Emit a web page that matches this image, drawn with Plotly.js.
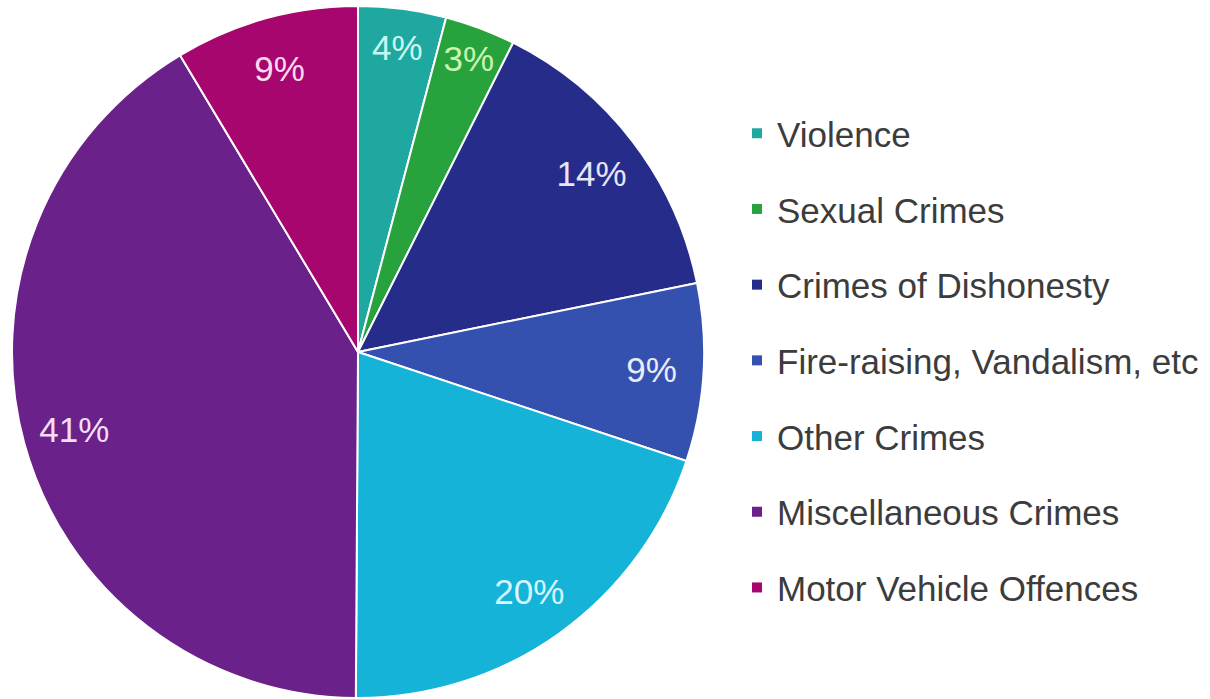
<!DOCTYPE html>
<html>
<head>
<meta charset="utf-8">
<script src="https://cdn.plot.ly/plotly-3.0.1.min.js"></script>
<style>
html,body{margin:0;padding:0;background:#fff;}
#chart{width:1210px;height:699px;}
</style>
</head>
<body>
<div id="chart"></div>
<script>
// Categories and values (share of crimes, %)
var categories = ["Violence", "Sexual Crimes", "Crimes of Dishonesty", "Fire-raising, Vandalism, etc", "Other Crimes", "Miscellaneous Crimes", "Motor Vehicle Offences"];
var shares = [4.1, 3.3, 14.4, 8.3, 20.0, 41.3, 8.6];
var shareLabels = ["4%", "3%", "14%", "9%", "20%", "41%", "9%"];
var colors = ["#1FA89F", "#27A23D", "#262C8A", "#3551B0", "#16B3D9", "#6A2189", "#A8066F"];
var labelColors = ["#c8f7f2", "#c9f5b0", "#e6e6f7", "#e8ecf8", "#d6f7ff", "#f3def5", "#fbd9ec"];

var FONT = "Liberation Sans, Arial, Helvetica, sans-serif";
var pieDomain = {x: [12/1210, 704/1210], y: [1 - 698/699, 1 - 6/699]};

var traces = [];
traces.push({
  type: "pie",
  labels: categories,
  values: shares,
  sort: false,
  direction: "clockwise",
  rotation: 0,
  domain: pieDomain,
  marker: {colors: colors, line: {color: "#ffffff", width: 2}},
  textinfo: "none",
  showlegend: false,
  hoverinfo: "label+percent"
});
traces.push({
  type: "pie",
  labels: categories,
  values: shares,
  sort: false,
  direction: "clockwise",
  rotation: 0,
  hole: 0.7,
  domain: pieDomain,
  marker: {colors: categories.map(function(){return "rgba(0,0,0,0)";}), line: {width: 0}},
  text: shareLabels,
  textinfo: "text",
  textposition: "inside",
  insidetextorientation: "horizontal",
  insidetextfont: {family: FONT, size: 35, color: labelColors},
  showlegend: false,
  hoverinfo: "skip"
});
// Legend entries
for (var i = 0; i < categories.length; i++) {
  traces.push({
    type: "scatter",
    mode: "markers",
    x: [null], y: [null],
    name: categories[i],
    legendgroup: "g" + i,
    marker: {symbol: "square", size: 10, color: colors[i]},
    hoverinfo: "skip"
  });
}

var layout = {
  width: 1210,
  height: 699,
  margin: {l: 0, r: 0, t: 0, b: 0},
  paper_bgcolor: "#ffffff",
  plot_bgcolor: "rgba(0,0,0,0)",
  xaxis: {visible: false},
  yaxis: {visible: false},
  uniformtext: {minsize: 35, mode: "show"},
  showlegend: true,
  legend: {
    x: 737/1210, xanchor: "left",
    y: 1 - 104/699, yanchor: "top",
    font: {family: FONT, size: 35, color: "#3c3c3c"},
    tracegroupgap: 27.2,
    bgcolor: "rgba(0,0,0,0)",
    traceorder: "grouped"
  }
};

Plotly.newPlot("chart", traces, layout, {displayModeBar: false, staticPlot: true});
</script>
</body>
</html>
